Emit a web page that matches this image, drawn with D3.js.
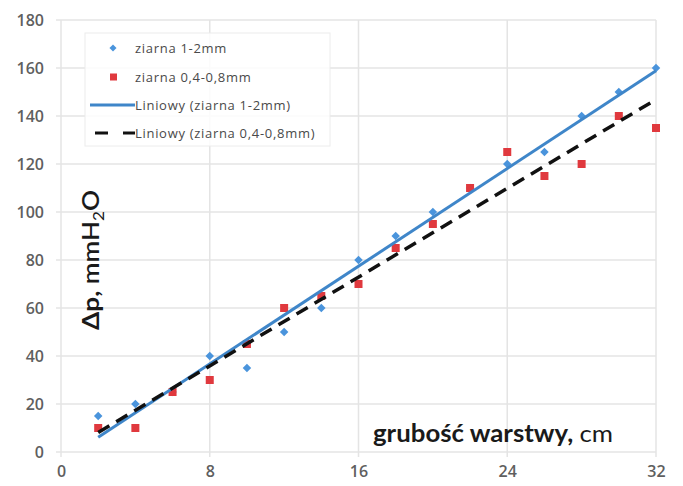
<!DOCTYPE html>
<html>
<head>
<meta charset="utf-8">
<script src="https://cdn.jsdelivr.net/npm/d3@7"></script>
<style>
  html, body { margin: 0; padding: 0; background: #fff; }
  svg { display: block; font-family: "Open Sans", Lato, sans-serif; }
</style>
</head>
<body>
<svg id="chart" width="683" height="486"></svg>
<script>
// Layer thickness (cm) and pressure drop (mmH2O) for two grain sizes
const thickness = [2, 4, 6, 8, 10, 12, 14, 16, 18, 20, 22, 24, 26, 28, 30, 32];
const coarseGrain = [15, 20, 25, 40, 35, 50, 60, 80, 90, 100, 110, 120, 125, 140, 150, 160];
const fineGrain = [10, 10, 25, 30, 45, 60, 65, 70, 85, 95, 110, 125, 115, 120, 140, 135];
const xTicks = [0, 8, 16, 24, 32];
const yTicks = [0, 20, 40, 60, 80, 100, 120, 140, 160, 180];
const seriesNames = ["ziarna 1-2mm", "ziarna 0,4-0,8mm"];
const trendNames = ["Liniowy (ziarna 1-2mm)", "Liniowy (ziarna 0,4-0,8mm)"];

const svg = d3.select("#chart");
const plot = { left: 61, right: 656, top: 20, bottom: 452 };

const x = d3.scaleLinear().domain([0, 32]).range([plot.left, plot.right]);
const y = d3.scaleLinear().domain([0, 180]).range([plot.bottom, plot.top]);

const blue = "#3f86c9";
const markerBlue = "#4a94dc";
const red = "#e0393e";
const grid = "#e4e4e4";
const tickColor = "#5f5f5f";

// grid
svg.append("g").selectAll("line").data(yTicks).join("line")
  .attr("x1", plot.left - 5).attr("x2", plot.right)
  .attr("y1", d => y(d)).attr("y2", d => y(d))
  .attr("stroke", grid).attr("stroke-width", 1.5);
svg.append("g").selectAll("line").data(xTicks).join("line")
  .attr("x1", d => x(d)).attr("x2", d => x(d))
  .attr("y1", plot.top).attr("y2", plot.bottom + 5)
  .attr("stroke", grid).attr("stroke-width", 1.5);

// axes (labels only)
const yAxis = svg.append("g").attr("transform", `translate(${plot.left - 17},0)`)
  .call(d3.axisLeft(y).tickValues(yTicks).tickSize(0).tickPadding(0));
yAxis.select(".domain").remove();
yAxis.selectAll("text").attr("fill", tickColor).style("font-size", "16px").style("font-weight", "600")
  .attr("font-family", "'Open Sans', sans-serif");

const xAxis = svg.append("g").attr("transform", `translate(0,${plot.bottom + 14})`)
  .call(d3.axisBottom(x).tickValues(xTicks).tickSize(0).tickPadding(0));
xAxis.select(".domain").remove();
xAxis.selectAll("text").attr("fill", tickColor).style("font-size", "16px").style("font-weight", "600")
  .attr("font-family", "'Open Sans', sans-serif");

// least squares trend line
function fit(xs, ys) {
  const mx = d3.mean(xs), my = d3.mean(ys);
  const sxy = d3.sum(xs, (v, i) => (v - mx) * (ys[i] - my));
  const sxx = d3.sum(xs, v => (v - mx) ** 2);
  const b = sxy / sxx;
  return v => my + b * (v - mx);
}
const xMin = d3.min(thickness), xMax = d3.max(thickness);
const fCoarse = fit(thickness, coarseGrain);
const fFine = fit(thickness, fineGrain);

// markers
svg.append("g").selectAll("rect").data(thickness).join("rect")
  .attr("x", -3).attr("y", -3).attr("width", 6).attr("height", 6)
  .attr("transform", (d, i) => `translate(${x(d)},${y(coarseGrain[i])}) rotate(45)`)
  .attr("fill", markerBlue);
svg.append("g").selectAll("rect").data(thickness).join("rect")
  .attr("x", d => x(d) - 4).attr("y", (d, i) => y(fineGrain[i]) - 4)
  .attr("width", 8).attr("height", 8)
  .attr("fill", red);

svg.append("line")
  .attr("x1", x(xMin)).attr("y1", y(fCoarse(xMin)))
  .attr("x2", x(xMax)).attr("y2", y(fCoarse(xMax)))
  .attr("stroke", blue).attr("stroke-width", 3);
svg.append("line")
  .attr("x1", x(xMin)).attr("y1", y(fFine(xMin)))
  .attr("x2", x(xMax)).attr("y2", y(fFine(xMax)))
  .attr("stroke", "#111").attr("stroke-width", 3.5)
  .attr("stroke-dasharray", "13,8");

// legend
const lg = svg.append("g");
lg.append("rect").attr("x", 85).attr("y", 33).attr("width", 245).attr("height", 113)
  .attr("fill", "#fff").attr("fill-opacity", 0.85).attr("stroke", "#ececec");
const rowsY = [48, 77, 105, 133];
const labels = seriesNames.concat(trendNames);
lg.selectAll("text").data(labels).join("text")
  .attr("x", 135)
  .attr("y", (d, i) => rowsY[i] + 4.5)
  .attr("fill", "#4a4a4a").style("font-size", "13px").style("letter-spacing", "0.7px")
  .text(d => d);
lg.append("rect").attr("x", -2.5).attr("y", -2.5).attr("width", 5).attr("height", 5)
  .attr("transform", `translate(113,${rowsY[0]}) rotate(45)`).attr("fill", markerBlue);
lg.append("rect").attr("x", 110).attr("y", rowsY[1] - 3.5).attr("width", 7).attr("height", 7).attr("fill", red);
lg.append("line").attr("x1", 90).attr("x2", 135).attr("y1", rowsY[2]).attr("y2", rowsY[2])
  .attr("stroke", blue).attr("stroke-width", 3);
lg.append("line").attr("x1", 95).attr("x2", 135).attr("y1", rowsY[3]).attr("y2", rowsY[3])
  .attr("stroke", "#111").attr("stroke-width", 3).attr("stroke-dasharray", "13,15");

// axis titles
const yt = svg.append("text")
  .attr("transform", `translate(99,260) rotate(-90)`)
  .attr("text-anchor", "middle").attr("fill", "#1a1a1a")
  .attr("font-family", "Lato, sans-serif").style("font-size", "23px")
  .attr("textLength", 140).attr("lengthAdjust", "spacingAndGlyphs");
yt.append("tspan").style("font-weight", "bold").text("Δp, ");
yt.append("tspan").style("font-weight", "600").text("mmH");
yt.append("tspan").attr("dy", 5).style("font-size", "15px").text("2");
yt.append("tspan").attr("dy", -5).style("font-weight", "600").text("O");

const xt = svg.append("text")
  .attr("x", 373).attr("y", 442)
  .attr("fill", "#1a1a1a").attr("font-family", "Lato, sans-serif").style("font-size", "24px")
  .attr("textLength", 240).attr("lengthAdjust", "spacingAndGlyphs");
xt.append("tspan").style("font-weight", "bold").text("grubość warstwy, ");
xt.append("tspan").text("cm");
</script>
</body>
</html>
